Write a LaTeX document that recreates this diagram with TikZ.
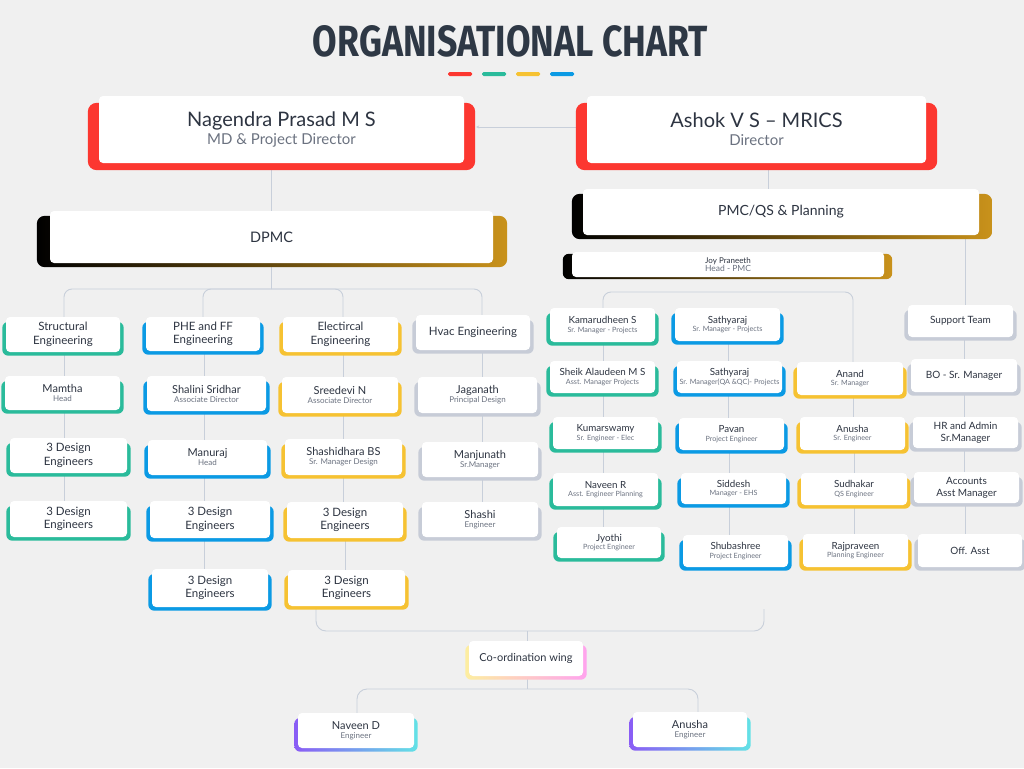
\documentclass[tikz,border=0pt]{standalone}
\usepackage{fontspec}
\usepackage{graphicx}
\setmainfont{Lato}
\newfontfamily\titlefont{Fira Sans}
\usetikzlibrary{calc,backgrounds,arrows.meta}

\definecolor{pagebg}{HTML}{F0F0F0}
\definecolor{ink}{HTML}{2D3441}
\definecolor{sub}{HTML}{6B7280}
\definecolor{titleink}{HTML}{2E3845}
\definecolor{cred}{HTML}{FC3730}
\definecolor{cteal}{HTML}{2ABB9B}
\definecolor{cblue}{HTML}{0B9AE4}
\definecolor{cyellow}{HTML}{F6C232}
\definecolor{cgrey}{HTML}{C7CCD7}
\definecolor{cgold}{HTML}{C9921B}
\definecolor{cpale}{HTML}{FDEEA0}
\definecolor{cpink}{HTML}{FFA3EE}
\definecolor{cpurple}{HTML}{8A5CF5}
\definecolor{ccyan}{HTML}{62E2E6}
\definecolor{linec}{HTML}{C8CFDA}

\newcommand\bigname[1]{{\fontsize{20}{20}\selectfont #1}}
\newcommand\lname[1]{{\fontsize{11}{11}\selectfont #1}}
\newcommand\rname[1]{{\fontsize{9.8}{9.8}\selectfont #1}}

\tikzset{
  card/.style={fill=white, rounded corners=4pt, inner sep=0pt, align=center, text=ink},
  wh/.style 2 args={minimum width=#1pt, minimum height=#2pt},
  bigcard/.style={card, font=\fontsize{15}{18}\selectfont},
  deptcard/.style={card, font=\fontsize{11.5}{13.5}\selectfont},
  lperson/.style={card, font=\fontsize{8}{9}\selectfont},
  rperson/.style={card, font=\fontsize{7.2}{8.5}\selectfont},
  conn/.style={draw=linec, line width=0.9pt},
  bus/.style={conn, rounded corners=8pt},
}

\begin{document}
\begin{tikzpicture}[x=1pt, y=-1pt]
\useasboundingbox (0,0) rectangle (1024,768);

% ---- heading and colour bars
\node[text=titleink, inner sep=0pt] (title) at (510.5,41.5)
  {\resizebox{395pt}{31pt}{\titlefont\bfseries ORGANISATIONAL CHART}};
\fill[cred, rounded corners=1.5pt]    (448,72) rectangle (472,76);
\fill[cteal, rounded corners=1.5pt]   (482,72) rectangle (506,76);
\fill[cyellow, rounded corners=1.5pt] (516,72) rectangle (540,76);
\fill[cblue, rounded corners=1.5pt]   (550,72) rectangle (574,76);

% ---- directors
\node[bigcard, wh={365}{67}] (nag) at (281.5,129.5)
  {\bigname{Nagendra Prasad M S}\\{\color{sub}MD \& Project Director}};
\node[bigcard, wh={339}{67}] (ash) at (756.5,129.5)
  {\bigname{Ashok V S -- MRICS}\\{\color{sub}Director}};

\node[card, wh={443}{52}, font=\fontsize{14.5}{16}\selectfont] (dpmc) at (271.5,237) {DPMC};
\node[card, wh={396}{46}, font=\fontsize{14}{16}\selectfont] (pmc) at (781,212) {PMC/QS \& Planning};
\node[card, wh={312}{25}, font=\fontsize{8.5}{8.5}\selectfont] (joy) at (728,264.5)
  {{\fontsize{8}{8}\selectfont Joy Praneeth}\\{\color{sub}Head - PMC}};

% ---- structural
\node[deptcard, wh={114}{35}] (st) at (63,334.5) {Structural\\Engineering};
\node[lperson, wh={115}{34}] (mam) at (62.5,393) {\lname{Mamtha}\\{\color{sub}Head}};
\node[deptcard, wh={117}{35}] (d1a) at (68.5,455.5) {3 Design\\Engineers};
\node[deptcard, wh={117}{36}] (d1b) at (68.5,519) {3 Design\\Engineers};

% ---- PHE and FF
\node[deptcard, wh={114}{34}] (phe) at (203,334) {PHE and FF\\Engineering};
\node[lperson, wh={119}{35}] (sha) at (206.5,393.5) {\lname{Shalini Sridhar}\\{\color{sub}Associate Director}};
\node[lperson, wh={119}{35}] (manu) at (207.5,457.5) {\lname{Manuraj}\\{\color{sub}Head}};
\node[deptcard, wh={120}{37}] (d2a) at (210,519.5) {3 Design\\Engineers};
\node[deptcard, wh={116}{38}] (d2b) at (210,588) {3 Design\\Engineers};

% ---- electrical
\node[deptcard, wh={115}{35}] (ele) at (340.5,334.5) {Electircal\\Engineering};
\node[lperson, wh={116}{36}] (sree) at (340,395) {\lname{Sreedevi N}\\{\color{sub}Associate Director}};
\node[lperson, wh={117}{36}] (shd) at (343.5,457) {\lname{Shashidhara BS}\\{\color{sub}Sr. Manager Design}};
\node[deptcard, wh={116}{36}] (d3a) at (345,520) {3 Design\\Engineers};
\node[deptcard, wh={117}{36}] (d3b) at (346.5,588) {3 Design\\Engineers};

% ---- HVAC
\node[deptcard, wh={114}{35}] (hvac) at (473,332.5) {Hvac Engineering};
\node[lperson, wh={119}{36}] (jag) at (477.5,395) {\lname{Jaganath}\\{\color{sub}Principal Design}};
\node[lperson, wh={116}{35}] (manj) at (480,459.5) {\lname{Manjunath}\\{\color{sub}Sr.Manager}};
\node[lperson, wh={116}{35}] (shashi) at (480,519.5) {\lname{Shashi}\\{\color{sub}Engineer}};

% ---- projects (teal)
\node[rperson, wh={105}{34}] (kam) at (602.5,325) {\rname{Kamarudheen S}\\{\color{sub}Sr. Manager - Projects}};
\node[rperson, wh={105}{32}] (sheik) at (602.5,377) {\rname{Sheik Alaudeen M S}\\{\color{sub}Asst. Manager Projects}};
\node[rperson, wh={105}{32}] (kum) at (605.5,433) {\rname{Kumarswamy}\\{\color{sub}Sr. Engineer - Elec}};
\node[rperson, wh={105}{33}] (navr) at (605.5,489.5) {\rname{Naveen R}\\{\color{sub}Asst. Engineer Planning}};
\node[rperson, wh={104}{31}] (jyo) at (609,542.5) {\rname{Jyothi}\\{\color{sub}Project Engineer}};

% ---- projects (blue)
\node[rperson, wh={105}{33}] (sat1) at (727.5,324.5) {\rname{Sathyaraj}\\{\color{sub}Sr. Manager - Projects}};
\node[rperson, wh={105}{32}] (sat2) at (729.5,377) {\rname{Sathyaraj}\\{\color{sub}Sr. Manager(QA \&QC)- Projects}};
\node[rperson, wh={105}{32}] (pav) at (731.5,434) {\rname{Pavan}\\{\color{sub}Project Engineer}};
\node[rperson, wh={105}{31}] (sid) at (733.5,488.5) {\rname{Siddesh}\\{\color{sub}Manager - EHS}};
\node[rperson, wh={105}{32}] (shu) at (735.5,551) {\rname{Shubashree}\\{\color{sub}Project Engineer}};

% ---- QS and planning (yellow)
\node[rperson, wh={106}{33}] (ana) at (850,378.5) {\rname{Anand}\\{\color{sub}Sr. Manager}};
\node[rperson, wh={105}{33}] (anu) at (852.5,433.5) {\rname{Anusha}\\{\color{sub}Sr. Engineer}};
\node[rperson, wh={106}{32}] (sud) at (854,489) {\rname{Sudhakar}\\{\color{sub}QS Engineer}};
\node[rperson, wh={105}{33}] (raj) at (855.5,550.5) {\rname{Rajpraveen}\\{\color{sub}Planning Engineer}};

% ---- support team
\node[card, wh={105}{32}, font=\fontsize{10}{12}\selectfont] (sup) at (960.5,321) {Support Team};
\node[card, wh={106}{33}, font=\fontsize{10}{12}\selectfont] (bo) at (964,375.5) {BO - Sr. Manager};
\node[card, wh={105}{31}, font=\fontsize{10}{12}\selectfont] (hr) at (965.5,432.5) {HR and Admin\\Sr.Manager};
\node[card, wh={105}{31}, font=\fontsize{10}{12}\selectfont] (acc) at (966.5,487.5) {Accounts\\Asst Manager};
\node[card, wh={104}{33}, font=\fontsize{10}{12}\selectfont] (off) at (970,550.5) {Off. Asst};

% ---- co-ordination wing
\node[card, wh={114}{35}, font=\fontsize{11}{13}\selectfont] (coord) at (526,658.5) {Co-ordination wing};
\node[lperson, wh={116}{35}] (nd) at (356,730.5) {\lname{Naveen D}\\{\color{sub}Engineer}};
\node[lperson, wh={114}{35}] (an2) at (690,729.5) {\lname{Anusha}\\{\color{sub}Engineer}};

% ---- bus points
\coordinate (dbus) at (271,289);
\coordinate (jbus) at (728,292);
\coordinate (bkL) at (316,609);
\coordinate (bkR) at (764,609);
\coordinate (cbus) at (527,631);
\coordinate (nbus) at (527,689);

\begin{pgfonlayer}{background}
  \fill[pagebg] (0,0) rectangle (1024,768);

  % connectors
  \draw[conn, <-, >={Stealth[length=3pt, width=3pt]}]
    ([xshift=12pt, yshift=2.5pt]nag.east) -- ([xshift=-11pt, yshift=2.5pt]ash.west);
  \draw[conn] ([xshift=-10.5pt]nag.south) -- ([xshift=-0.5pt]dpmc.north);
  \draw[conn] ([xshift=-0.5pt]dpmc.south) -- (dbus);
  \draw[bus] ([xshift=1pt]st.north) |- (dbus);
  \draw[bus] (phe.north) |- (dbus);
  \draw[bus] ([xshift=2.5pt]ele.north) |- (dbus);
  \draw[bus] ([xshift=9pt]hvac.north) |- (dbus);

  \draw[conn] ([xshift=11.5pt]ash.south) -- ([xshift=-13pt]pmc.north);
  \draw[conn] ([xshift=184pt]pmc.south) -- ([xshift=4.5pt]sup.north);
  \draw[bus] ([xshift=0.5pt]kam.north) |- (jbus) -| ([xshift=3pt]ana.north);

  \foreach \a/\b/\dx in {st/mam/1, mam/d1a/1.5, d1a/d1b/-4.5,
      phe/sha/1, sha/manu/-2.5, manu/d2a/-3.5, d2a/d2b/-6,
      ele/sree/2.5, sree/shd/3, shd/d3a/0, d3a/d3b/0,
      hvac/jag/9, jag/manj/4.5, manj/shashi/2,
      kam/sheik/0.5, sheik/kum/0.5, kum/navr/-2.5, navr/jyo/-2.5,
      sat1/sat2/0.5, sat2/pav/-1.5, pav/sid/-2.5, sid/shu/-4.5,
      ana/anu/3, anu/sud/1.5, sud/raj/0,
      sup/bo/3.5, bo/hr/0, hr/acc/-1.5, acc/off/-1.5}
    \draw[conn] ($(\a.south)+(\dx,0)$) -- ($(\a.south |- \b.north)+(\dx,0)$);

  \draw[conn, rounded corners=10pt] (bkL) |- (cbus) -| (bkR);
  \draw[conn] (cbus) -- ([xshift=1pt]coord.north);
  \draw[conn] ([xshift=1pt]coord.south) -- (nbus);
  \draw[conn, rounded corners=10pt] ([xshift=1pt]nd.north) |- (nbus) -| ([xshift=8pt]an2.north);

  % coloured plates behind the cards
  \foreach \n/\c in {st/cteal, mam/cteal, d1a/cteal, d1b/cteal,
      phe/cblue, sha/cblue, manu/cblue, d2a/cblue, d2b/cblue,
      ele/cyellow, sree/cyellow, shd/cyellow, d3a/cyellow, d3b/cyellow,
      hvac/cgrey, jag/cgrey, manj/cgrey, shashi/cgrey,
      kam/cteal, sheik/cteal, kum/cteal, navr/cteal, jyo/cteal,
      sat1/cblue, sat2/cblue, pav/cblue, sid/cblue, shu/cblue,
      ana/cyellow, anu/cyellow, sud/cyellow, raj/cyellow,
      sup/cgrey, bo/cgrey, hr/cgrey, acc/cgrey, off/cgrey}
    \fill[\c, rounded corners=6pt] ($(\n.north west)+(-3.5,5)$) rectangle ($(\n.south east)+(3.5,3.5)$);

  \foreach \n in {nag, ash}
    \fill[cred, rounded corners=9pt] ($(\n.north west)+(-11,7)$) rectangle ($(\n.south east)+(11,7)$);

  \shade[left color=black, right color=cgold, rounded corners=8pt]
    ($(dpmc.north west)+(-13,5)$) rectangle ($(dpmc.south east)+(14,4)$);
  \shade[left color=black, right color=cgold, rounded corners=8pt]
    ($(pmc.north west)+(-11,5)$) rectangle ($(pmc.south east)+(13,4)$);
  \shade[left color=black, right color=cgold, rounded corners=6pt]
    ($(joy.north west)+(-9,2)$) rectangle ($(joy.south east)+(8,2)$);

  \shade[left color=cpale, right color=cpink, rounded corners=6pt]
    ($(coord.north west)+(-3.5,4)$) rectangle ($(coord.south east)+(3.5,3.5)$);
  \foreach \n in {nd, an2}
    \shade[left color=cpurple, right color=ccyan, rounded corners=6pt]
      ($(\n.north west)+(-3.5,5)$) rectangle ($(\n.south east)+(3.5,3.5)$);
\end{pgfonlayer}
\end{tikzpicture}
\end{document}
